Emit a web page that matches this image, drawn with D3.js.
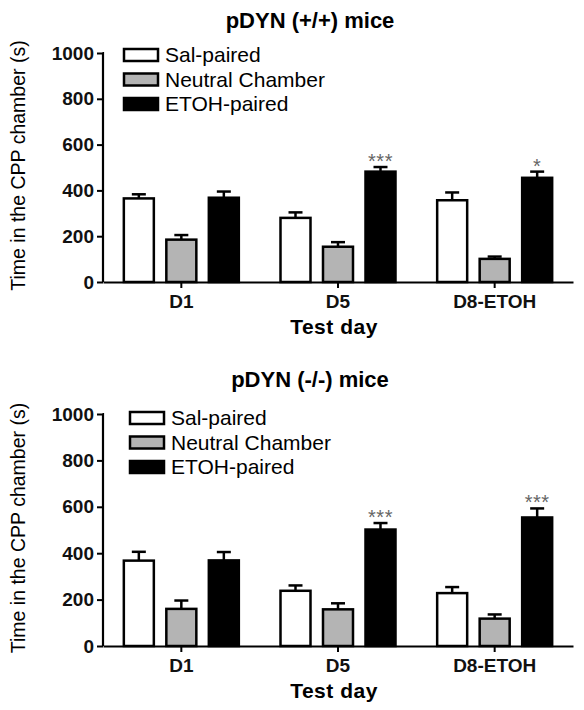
<!DOCTYPE html>
<html>
<head>
<meta charset="utf-8">
<script src="https://cdn.jsdelivr.net/npm/d3@7"></script>
<style>
  html, body { margin: 0; padding: 0; background: #fff; }
  svg { display: block; }
  text { font-family: "Liberation Sans", Arial, sans-serif; }
</style>
</head>
<body>
<svg id="chart" width="584" height="710"></svg>
<script>
// ---- data ----
const categories = ["D1", "D5", "D8-ETOH"];
const seriesNames = ["Sal-paired", "Neutral Chamber", "ETOH-paired"];
const seriesColors = ["#ffffff", "#b4b4b4", "#000000"];
const yTicks = [0, 200, 400, 600, 800, 1000];

// pDYN (+/+) mice
const wtSal = [365, 280, 357];
const wtNeutral = [185, 154, 101];
const wtEtoh = [368, 482, 455];
const wtSalErr = [18, 24, 34];
const wtNeutralErr = [20, 20, 10];
const wtEtohErr = [27, 20, 27];
const wtStars = ["", "***", "*"];

// pDYN (-/-) mice
const koSal = [368, 238, 228];
const koNeutral = [160, 158, 118];
const koEtoh = [369, 502, 554];
const koSalErr = [38, 23, 26];
const koNeutralErr = [36, 26, 18];
const koEtohErr = [36, 28, 39];
const koStars = ["", "***", "***"];

const svg = d3.select("#chart");

function panel(opts) {
  const { title, titleY, yTop, yBottom, vals, errs, stars, legendX, legendY } = opts;
  const g = svg.append("g");
  const x0 = d3.scaleBand().domain(categories).range([103, 573]);
  const x1 = d3.scaleBand().domain(seriesNames).range([-57.5, 57.5]).paddingInner(0.294);
  const y = d3.scaleLinear().domain([0, 1000]).range([yBottom, yTop]);

  // title
  g.append("text").attr("x", 310).attr("y", titleY)
    .attr("text-anchor", "middle").attr("font-size", 22).attr("font-weight", "bold")
    .text(title);

  // y axis label
  g.append("text")
    .attr("transform", `translate(25,${(yTop + yBottom) / 2 - 2}) rotate(-90)`)
    .attr("text-anchor", "middle").attr("font-size", 19.5)
    .text("Time in the CPP chamber (s)");

  // bars
  seriesNames.forEach((s, si) => {
    categories.forEach((c, ci) => {
      const cx = x0(c) + x0.bandwidth() / 2;
      const bx = cx + x1(s);
      const v = vals[si][ci];
      const e = errs[si][ci];
      const bw = x1.bandwidth();
      // error bar (upper only)
      g.append("line")
        .attr("x1", bx + bw / 2).attr("x2", bx + bw / 2)
        .attr("y1", y(v)).attr("y2", y(v + e))
        .attr("stroke", "#000").attr("stroke-width", 2.5);
      g.append("line")
        .attr("x1", bx + bw / 2 - 7).attr("x2", bx + bw / 2 + 7)
        .attr("y1", y(v + e)).attr("y2", y(v + e))
        .attr("stroke", "#000").attr("stroke-width", 2.5);
      g.append("rect")
        .attr("x", bx).attr("y", y(v))
        .attr("width", bw).attr("height", y(0) - y(v))
        .attr("fill", seriesColors[si]).attr("stroke", "#000").attr("stroke-width", 2.5);
      if (si === 2 && stars[ci]) {
        g.append("text")
          .attr("x", bx + bw / 2).attr("y", y(v + e) + 1)
          .attr("text-anchor", "middle").attr("font-size", 20).attr("fill", "#666")
          .attr("letter-spacing", 0.5)
          .text(stars[ci]);
      }
    });
  });

  // y axis
  const yAxis = g.append("g").attr("transform", "translate(103,0)")
    .call(d3.axisLeft(y).tickValues(yTicks).tickSize(6).tickPadding(3).tickFormat(d3.format("d")));
  yAxis.select(".domain").attr("stroke-width", 2.2).attr("d", `M-0.5,${y(1000)}H0V${y(0)}`);
  yAxis.selectAll(".tick line").attr("stroke-width", 2);
  yAxis.selectAll("text").attr("font-size", 19).attr("font-weight", "bold")
    .attr("font-family", "Liberation Sans, Arial, sans-serif").attr("fill", "#111");

  // x axis
  const xAxis = g.append("g").attr("transform", `translate(0,${yBottom})`)
    .call(d3.axisBottom(x0).tickSize(6).tickSizeOuter(0).tickPadding(7));
  xAxis.select(".domain").attr("stroke-width", 2.2);
  xAxis.selectAll(".tick line").attr("stroke-width", 2);
  xAxis.selectAll("text").attr("font-size", 19).attr("font-weight", "bold")
    .attr("font-family", "Liberation Sans, Arial, sans-serif").attr("fill", "#111");

  g.append("text").attr("x", 334).attr("y", yBottom + 52)
    .attr("text-anchor", "middle").attr("font-size", 21).attr("font-weight", "bold")
    .attr("letter-spacing", 0.5)
    .text("Test day");

  // legend
  seriesNames.forEach((s, si) => {
    const ly = legendY + si * 24.5;
    g.append("rect").attr("x", legendX).attr("y", ly - 6)
      .attr("width", 34).attr("height", 12)
      .attr("fill", seriesColors[si]).attr("stroke", "#000").attr("stroke-width", 2.5);
    g.append("text").attr("x", legendX + 41).attr("y", ly + 7)
      .attr("font-size", 21).text(s);
  });
}

panel({
  title: "pDYN (+/+) mice", titleY: 28, yTop: 53, yBottom: 282,
  vals: [wtSal, wtNeutral, wtEtoh], errs: [wtSalErr, wtNeutralErr, wtEtohErr], stars: wtStars,
  legendX: 124, legendY: 55
});
panel({
  title: "pDYN (-/-) mice", titleY: 387, yTop: 414, yBottom: 646,
  vals: [koSal, koNeutral, koEtoh], errs: [koSalErr, koNeutralErr, koEtohErr], stars: koStars,
  legendX: 130, legendY: 418
});
</script>
</body>
</html>
